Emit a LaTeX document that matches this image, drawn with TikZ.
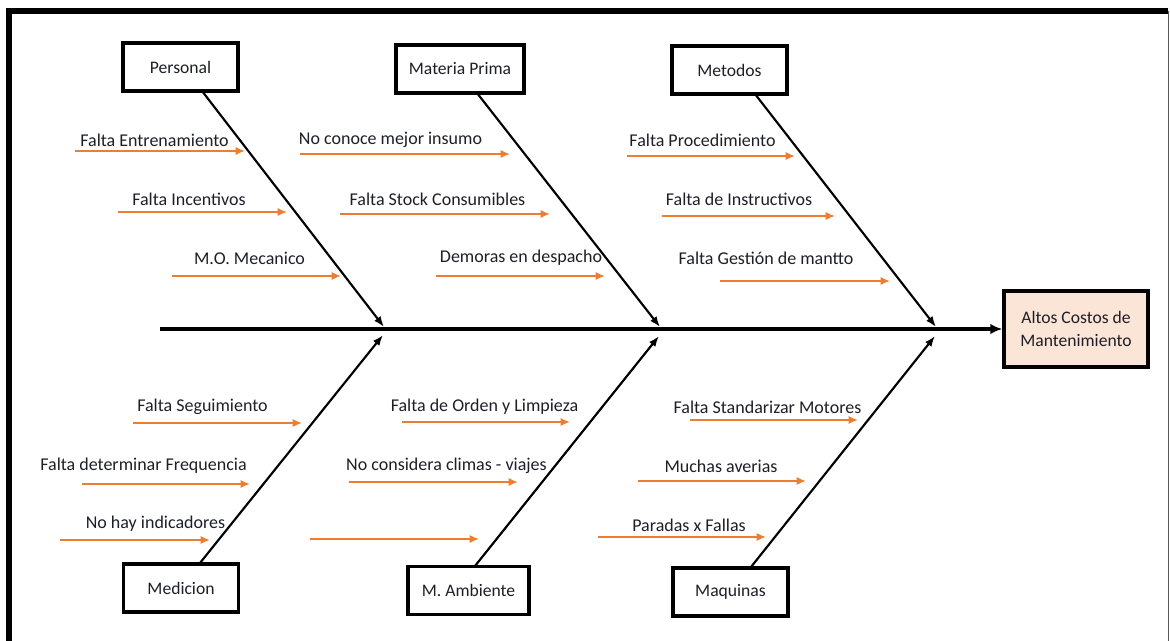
\documentclass[tikz,border=0pt]{standalone}
\usepackage{fontspec}
\setmainfont{Carlito}
\usetikzlibrary{arrows.meta}
\definecolor{causeorange}{RGB}{237,125,49}
\definecolor{headfill}{RGB}{251,229,214}
\definecolor{labeltext}{RGB}{30,30,40}
\definecolor{framegrey}{RGB}{90,90,90}
\tikzset{
  catbox/.style={draw=black, line width=2.6pt, fill=white, minimum width=#1, minimum height=36pt, inner sep=0pt, font=\fontsize{13.2}{15}\selectfont, text=labeltext},
  catbox/.default=86pt,
  bone/.style={draw=black, line width=1.6pt, -{Latex[length=8pt,width=6pt]}},
  cause/.style={draw=causeorange, line width=1.2pt, -{Latex[length=7pt,width=6pt]}},
  causetext/.style={font=\fontsize{13.5}{15}\selectfont, text=labeltext, inner sep=0pt},
}
\begin{document}
\begin{tikzpicture}[x=0.75pt,y=-0.75pt]
\useasboundingbox (0,0) rectangle (1170,641);
% outer frame
\draw[line width=4.2pt] (9,646) -- (9,11) -- (1168,11);
\draw[framegrey, line width=1.2pt] (1168.5,11) -- (1168.5,646);

% effect box and spine
\node[draw=black, line width=2.6pt, fill=headfill, minimum width=108pt, minimum height=57pt, inner sep=0pt, align=center, font=\fontsize{13.2}{17.5}\selectfont, text=labeltext] (effect) at (1076,329) {Altos Costos de\\Mantenimiento};
\coordinate (tail) at (160,329);
\draw[line width=2.6pt, -{Latex[length=9pt,width=8pt]}] (tail) -- (effect.west);

% category boxes
\node[catbox] (personal) at (180.5,67) {Personal};
\node[catbox=96pt] (materia) at (460,69) {Materia Prima};
\node[catbox] (metodos) at (729.5,70) {Metodos};
\node[catbox] (medicion) at (181,588) {Medicion};
\node[catbox=91pt] (ambiente) at (468.5,590.5) {M. Ambiente};
\node[catbox] (maquinas) at (730.5,592) {Maquinas};

% bone end points on the spine
\coordinate (pS) at (202,91);   \coordinate (pE) at (384,327);
\coordinate (mS) at (477,93);   \coordinate (mE) at (660,327);
\coordinate (tS) at (755,94);   \coordinate (tE) at (936,327);
\coordinate (dS) at (200,563);  \coordinate (dE) at (383,335);
\coordinate (aS) at (475,566);  \coordinate (aE) at (659,336);
\coordinate (qS) at (751,567);  \coordinate (qE) at (935,336);
\draw[bone] (pS) -- (pE);
\draw[bone] (mS) -- (mE);
\draw[bone] (tS) -- (tE);
\draw[bone] (dS) -- (dE);
\draw[bone] (aS) -- (aE);
\draw[bone] (qS) -- (qE);

% causes: Personal
\node[causetext] (p1) at (154.5,140) {Falta Entrenamiento};
\coordinate (p1a) at (75,151);  \coordinate (p1b) at (245,151);
\draw[cause] (p1a) -- (p1b);
\node[causetext] (p2) at (189,199) {Falta Incentivos};
\coordinate (p2a) at (118,212); \coordinate (p2b) at (287,212);
\draw[cause] (p2a) -- (p2b);
\node[causetext] (p3) at (249.5,258) {M.O. Mecanico};
\coordinate (p3a) at (172,276); \coordinate (p3b) at (341,276);
\draw[cause] (p3a) -- (p3b);

% causes: Materia Prima
\node[causetext] (m1) at (390.5,140) {No conoce mejor insumo};
\coordinate (m1a) at (300,154); \coordinate (m1b) at (510,154);
\draw[cause] (m1a) -- (m1b);
\node[causetext] (m2) at (437.5,199) {Falta Stock Consumibles};
\coordinate (m2a) at (340,214); \coordinate (m2b) at (550,214);
\draw[cause] (m2a) -- (m2b);
\node[causetext] (m3) at (521,258) {Demoras en despacho};
\coordinate (m3a) at (436,276); \coordinate (m3b) at (605,276);
\draw[cause] (m3a) -- (m3b);

% causes: Metodos
\node[causetext] (t1) at (702.5,140) {Falta Procedimiento};
\coordinate (t1a) at (627,156); \coordinate (t1b) at (795,156);
\draw[cause] (t1a) -- (t1b);
\node[causetext] (t2) at (739,199) {Falta de Instructivos};
\coordinate (t2a) at (662,216); \coordinate (t2b) at (835,216);
\draw[cause] (t2a) -- (t2b);
\node[causetext] (t3) at (766,258) {Falta Gestión de mantto};
\coordinate (t3a) at (720,281); \coordinate (t3b) at (890,281);
\draw[cause] (t3a) -- (t3b);

% causes: Medicion
\node[causetext] (d1) at (202.5,407) {Falta Seguimiento};
\coordinate (d1a) at (133,423); \coordinate (d1b) at (302,423);
\draw[cause] (d1a) -- (d1b);
\node[causetext] (d2) at (143.5,466) {Falta determinar Frequencia};
\coordinate (d2a) at (82,484);  \coordinate (d2b) at (250,484);
\draw[cause] (d2a) -- (d2b);
\node[causetext] (d3) at (155.5,524) {No hay indicadores};
\coordinate (d3a) at (60,540);  \coordinate (d3b) at (210,540);
\draw[cause] (d3a) -- (d3b);

% causes: M. Ambiente
\node[causetext] (a1) at (484.5,407) {Falta de Orden y Limpieza};
\coordinate (a1a) at (402,422); \coordinate (a1b) at (570,422);
\draw[cause] (a1a) -- (a1b);
\node[causetext] (a2) at (446.5,466) {No considera climas - viajes};
\coordinate (a2a) at (349,482); \coordinate (a2b) at (518,482);
\draw[cause] (a2a) -- (a2b);
\coordinate (a3a) at (310,539); \coordinate (a3b) at (479,539);
\draw[cause] (a3a) -- (a3b);

% causes: Maquinas
\node[causetext] (q1) at (767.5,407) {Falta Standarizar Motores};
\coordinate (q1a) at (690,420); \coordinate (q1b) at (858,420);
\draw[cause] (q1a) -- (q1b);
\node[causetext] (q2) at (721,466) {Muchas averias};
\coordinate (q2a) at (638,481); \coordinate (q2b) at (806,481);
\draw[cause] (q2a) -- (q2b);
\node[causetext] (q3) at (689,525) {Paradas x Fallas};
\coordinate (q3a) at (598,537); \coordinate (q3b) at (766,537);
\draw[cause] (q3a) -- (q3b);
\end{tikzpicture}
\end{document}
